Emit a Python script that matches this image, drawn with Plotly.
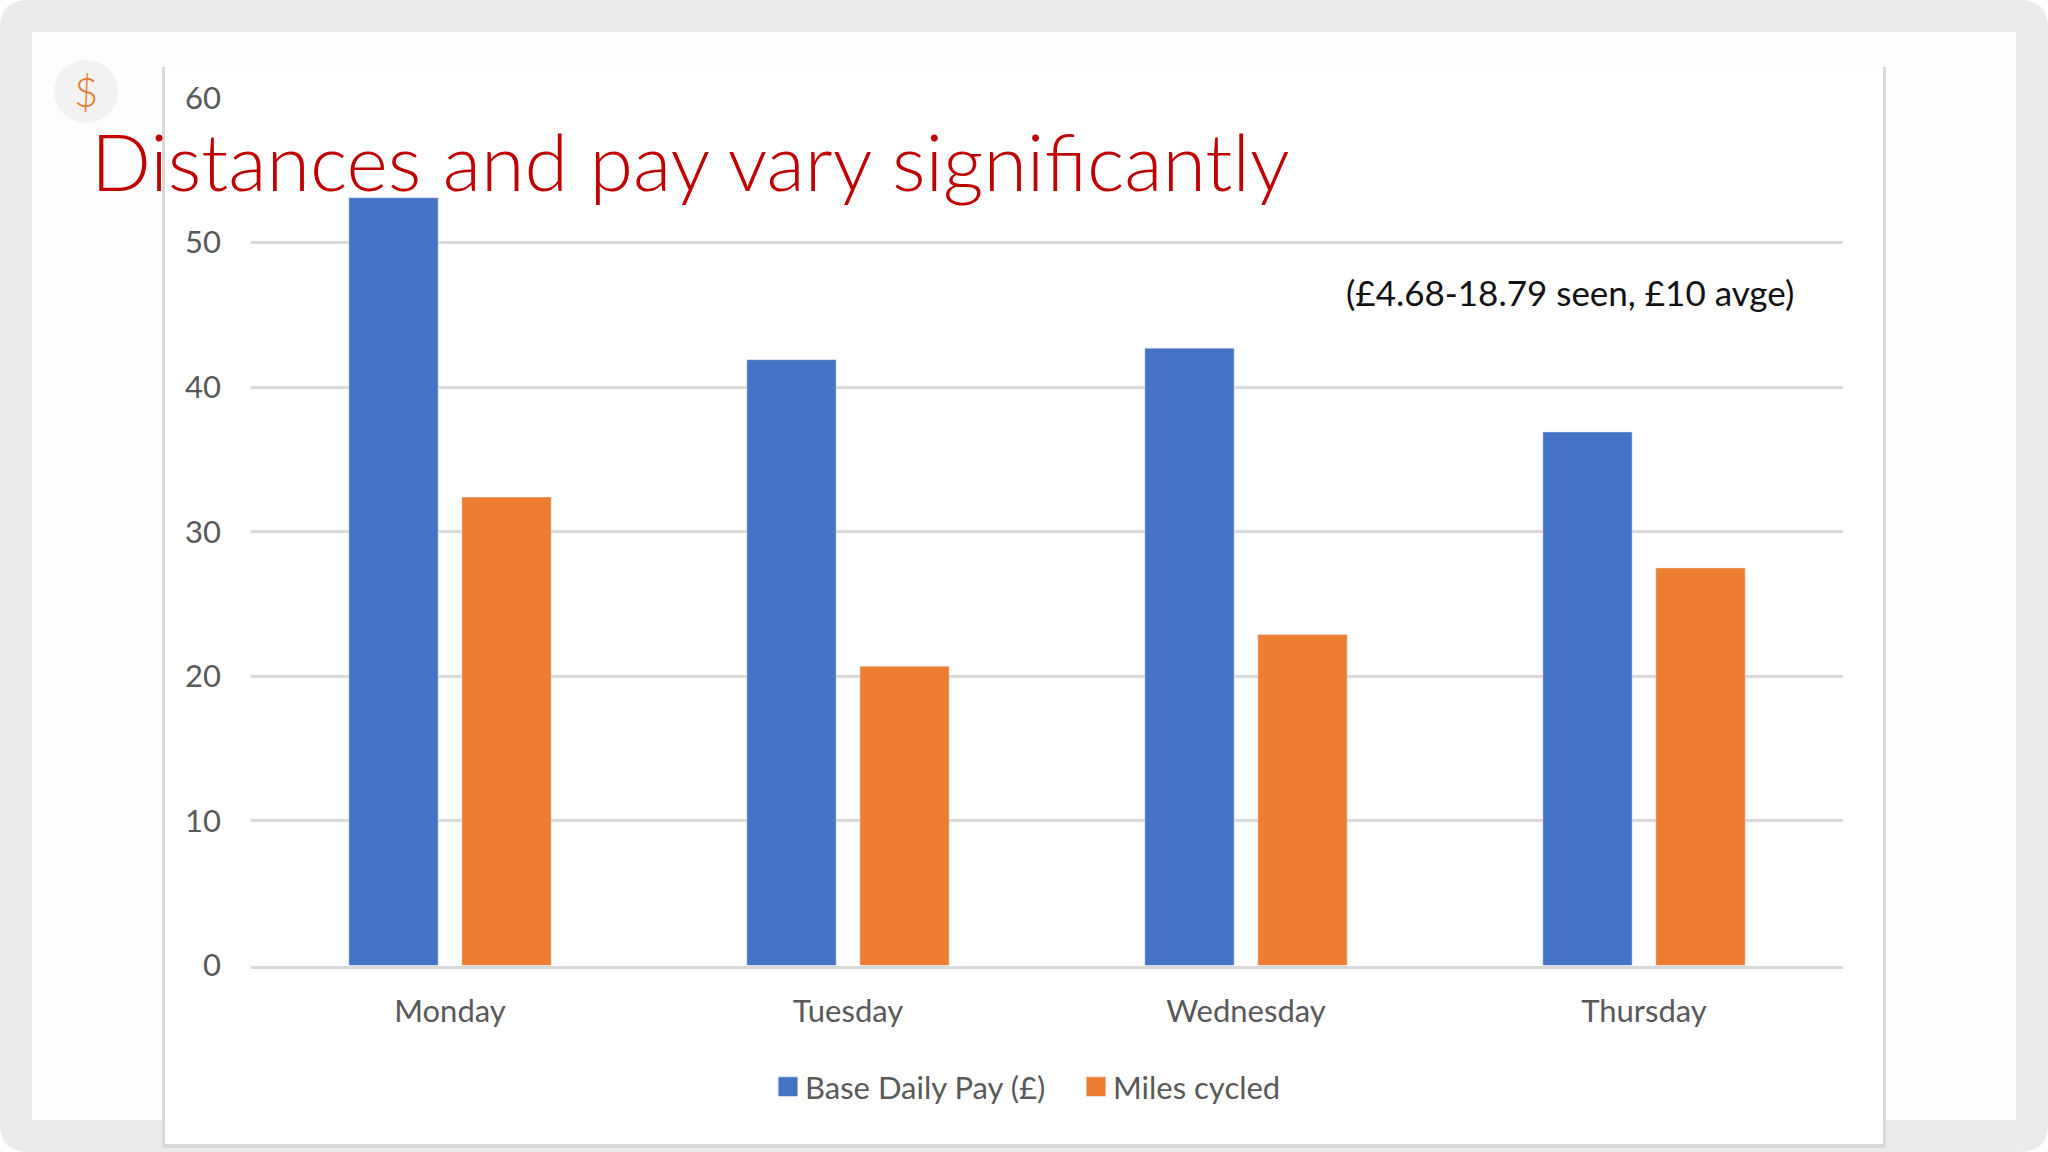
import plotly.graph_objects as go

W, H = 2048, 1152
days = ['Monday', 'Tuesday', 'Wednesday', 'Thursday']
pay = [53.1, 41.9, 42.7, 36.9]
miles = [32.4, 20.7, 22.9, 27.5]
y_ticks = [0, 10, 20, 30, 40, 50, 60]
title = 'Distances and pay vary significantly'
note = '(£4.68-18.79 seen, £10 avge)'

BLUE = '#4472c4'
ORANGE = '#ed7d31'
GREY = '#595959'
GRID = '#d9d9d9'
FONT = 'Lato'

def px(x): return x / W
def py(y): return 1 - y / H

def box(x0, y0, x1, y1, fill, layer='below'):
    return dict(type='rect', xref='paper', yref='paper', x0=px(x0), x1=px(x1), y0=py(y0), y1=py(y1),
                fillcolor=fill, line_width=0, layer=layer)

# outer grey frame with rounded corners
R = 28
frame = (f'M {px(R)} {py(0)} L {px(W-R)} {py(0)} Q {px(W)} {py(0)} {px(W)} {py(R)} '
         f'L {px(W)} {py(H-R)} Q {px(W)} {py(H)} {px(W-R)} {py(H)} '
         f'L {px(R)} {py(H)} Q {px(0)} {py(H)} {px(0)} {py(H-R)} '
         f'L {px(0)} {py(R)} Q {px(0)} {py(0)} {px(R)} {py(0)} Z')

shapes = [
    dict(type='path', xref='paper', yref='paper', path=frame, fillcolor='#ebebeb', line_width=0, layer='below'),
    box(32, 32, 2016, 1120, '#fdfdfd'),
    box(163, 67, 1885, 1145, '#ffffff'),
    box(162, 67, 165, 1145, GRID),
    box(1883, 67, 1886, 1147, GRID),
    box(162, 1144, 1886, 1148, GRID),
    dict(type='circle', xref='paper', yref='paper', x0=px(54), x1=px(118), y0=py(60), y1=py(123),
         fillcolor='#f2f2f2', line_width=0, layer='below'),
]

fig = go.Figure()
fig.add_trace(go.Bar(x=days, y=pay, name='Base Daily Pay (£)', marker=dict(color=BLUE)))
fig.add_trace(go.Bar(x=days, y=miles, name='Miles cycled', marker=dict(color=ORANGE)))

fig.update_layout(
    width=W, height=H,
    autosize=False,
    margin=dict(l=0, r=0, t=0, b=0, autoexpand=False),
    paper_bgcolor='white',
    plot_bgcolor='rgba(0,0,0,0)',
    barmode='group',
    bargap=0.432,
    bargroupgap=0.21,
    shapes=shapes,
    font=dict(family=FONT, color=GREY),
    title=dict(text=title, x=px(91), xanchor='left', y=py(163), yanchor='middle',
               font=dict(family=FONT, size=79, color='#c00000', weight=300)),
    legend=dict(orientation='h', x=px(765), xanchor='left', y=py(1087), yanchor='middle',
                font=dict(size=31, color=GREY), bgcolor='rgba(0,0,0,0)',
                entrywidthmode='pixels', entrywidth=263),
    annotations=[
        dict(text=note, xref='paper', yref='paper', x=px(1570), y=py(292), xanchor='center', yanchor='middle',
             showarrow=False, font=dict(family=FONT, size=35, color='#111111')),
        dict(text='$', xref='paper', yref='paper', x=px(86), y=py(91), xanchor='center', yanchor='middle',
             showarrow=False, font=dict(family=FONT, size=42, color='#e57b33', weight=300)),
    ],
)
fig.update_xaxes(domain=[px(251), px(1843)], showgrid=False, showline=True, linecolor=GRID, linewidth=3,
                 ticks='', tickfont=dict(size=31, color=GREY), ticklabelstandoff=16, zeroline=False)
fig.update_yaxes(domain=[py(965.5), py(98)], range=[0, 60], tickvals=y_ticks, showgrid=True, gridcolor=GRID,
                 gridwidth=3, zeroline=False, showline=False, ticks='',
                 tickfont=dict(size=31, color=GREY), ticklabelstandoff=29)
fig.write_html('out.html', config=dict(displayModeBar=False),
               post_script="document.body.style.margin='0';document.body.style.overflow='hidden';"
                           "var st=document.createElement('style');"
                           "st.textContent='.legendpoints path{scale:1.65;translate:-10px 0;transform-box:fill-box;transform-origin:center;}';"
                           "document.head.appendChild(st);")
